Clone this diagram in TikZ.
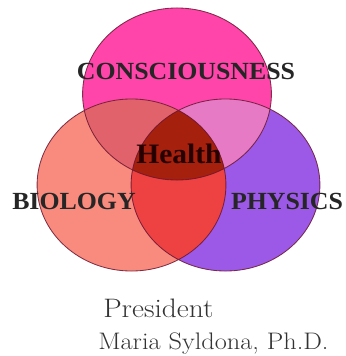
\documentclass[tikz,border=0pt]{standalone}
\usepackage{fontspec}
\usepackage{xcolor}
\usepackage{tikz}
\newfontfamily\labelfont{Liberation Serif}[FakeStretch=1.05]
\newfontfamily\signfont{Latin Modern Roman}[FakeStretch=1.1]
\definecolor{conscfill}{HTML}{FF45AA}
\definecolor{biofill}{HTML}{F98A7E}
\definecolor{physfill}{HTML}{9C58E6}
\definecolor{cbfill}{HTML}{E2626C}
\definecolor{cpfill}{HTML}{E67AC4}
\definecolor{bpfill}{HTML}{EE4242}
\definecolor{allfill}{HTML}{A6200E}
\definecolor{rimcol}{HTML}{6A1630}
\newcommand{\conscpath}{(177,94) ellipse (2.36cm and 2.15cm)}
\newcommand{\biopath}{(131.5,185) ellipse (2.36cm and 2.15cm)}
\newcommand{\physpath}{(225.5,185) ellipse (2.36cm and 2.15cm)}
\tikzset{
  rim/.style={draw=rimcol, line width=0.6pt, draw opacity=0.85},
  setlabel/.style={font=\labelfont\bfseries\fontsize{17.5}{20}\selectfont, text=black!85, anchor=base, inner sep=0pt},
  signline/.style={font=\signfont\fontsize{17}{20}\selectfont, text=black!80, anchor=base west, inner sep=0pt}
}

\begin{document}
\begin{tikzpicture}[x=0.025cm, y=-0.025cm]
  \useasboundingbox (0,0) rectangle (346,356);

  % Die drei Mengen
  \fill[conscfill] \conscpath;
  \fill[biofill] \biopath;
  \fill[physfill] \physpath;

  % Schnittflaechen
  \begin{scope}
    \clip \conscpath;
    \fill[cbfill] \biopath;
  \end{scope}
  \begin{scope}
    \clip \conscpath;
    \fill[cpfill] \physpath;
  \end{scope}
  \begin{scope}
    \clip \biopath;
    \fill[bpfill] \physpath;
  \end{scope}
  \begin{scope}
    \clip \conscpath;
    \clip \biopath;
    \fill[allfill] \physpath;
  \end{scope}

  % Raender
  \draw[rim] \conscpath \biopath \physpath;

  % Beschriftung
  \node[setlabel] (consc) at (186,79) {CONSCIOUSNESS};
  \node[setlabel] (bio) at (74,209) {BIOLOGY};
  \node[setlabel] (phys) at (287,209) {PHYSICS};
  \node[setlabel, font=\labelfont\bfseries\fontsize{20}{22}\selectfont, text=black!85!red] (health) at (179,163) {Health};

  % Unterschrift
  \node[signline, font=\signfont\fontsize{19}{22}\selectfont] (pres) at (103,317) {President};
  \node[signline] (name) at (98,349) {Maria Syldona, Ph.D.};
\end{tikzpicture}
\end{document}
